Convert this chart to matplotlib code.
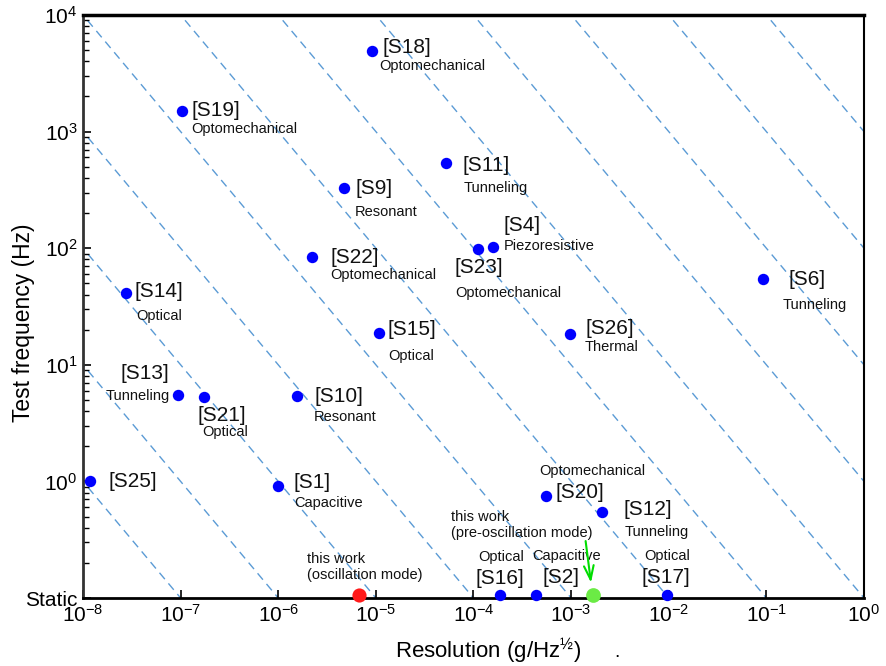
import numpy as np
import matplotlib
matplotlib.use("Agg")
import matplotlib.pyplot as plt
from matplotlib.ticker import LogLocator, NullLocator, FixedLocator, NullFormatter

plt.rcParams["font.family"] = ["Liberation Sans", "DejaVu Sans"]
plt.rcParams["mathtext.fontset"] = "custom"
plt.rcParams["mathtext.rm"] = "Liberation Sans"
plt.rcParams["mathtext.it"] = "Liberation Sans:italic"
plt.rcParams["mathtext.default"] = "regular"

# "Static" measurements sit on the bottom edge of the chart
STATIC = 0.106

refs = ["S18", "S19", "S11", "S9", "S4", "S23", "S22", "S6", "S14", "S15", "S26",
        "S13", "S21", "S10", "S25", "S1", "S20", "S12", "S16", "S2", "S17"]
resolution = [9.1e-6, 1.03e-7, 5.2e-5, 4.7e-6, 1.6e-4, 1.1e-4, 2.2e-6, 9.3e-2, 2.75e-8,
              1.07e-5, 9.8e-4, 9.4e-8, 1.73e-7, 1.55e-6, 1.18e-8, 1.0e-6, 5.5e-4, 2.06e-3,
              1.89e-4, 4.4e-4, 9.5e-3]
frequency = [4900, 1500, 537, 328, 103, 99, 84, 54, 41.6, 18.9, 18.5,
             5.56, 5.25, 5.35, 1.0, 0.906, 0.75, 0.55, STATIC, STATIC, STATIC]
mechanism = ["Optomechanical", "Optomechanical", "Tunneling", "Resonant", "Piezoresistive",
             "Optomechanical", "Optomechanical", "Tunneling", "Optical", "Optical", "Thermal",
             "Tunneling", "Optical", "Resonant", "", "Capacitive", "Optomechanical", "Tunneling",
             "Optical", "Capacitive", "Optical"]

osc_res = 6.7e-6      # this work, oscillation mode
pre_res = 1.66e-3     # this work, pre-oscillation mode

# constant resolution*frequency guide lines
guide_exp = list(range(-9, 5))

x_ticks = [1e-8, 1e-7, 1e-6, 1e-5, 1e-4, 1e-3, 1e-2, 1e-1, 1e0]
x_ticklabels = ["$10^{-8}$", "$10^{-7}$", "$10^{-6}$", "$10^{-5}$", "$10^{-4}$",
                "$10^{-3}$", "$10^{-2}$", "$10^{-1}$", "$10^{0}$"]
y_ticks = [0.1, 1, 10, 100, 1000, 10000]
y_ticklabels = ["Static", "$10^{0}$", "$10^{1}$", "$10^{2}$", "$10^{3}$", "$10^{4}$"]

# label placement, offsets in pixels from the dot: (dx, dy, ha)
tag_pos = {
    "S18": (11, 4, "left"), "S19": (10, 1, "left"), "S11": (17, -2, "left"),
    "S9": (12, 0, "left"), "S4": (10, 21, "left"), "S23": (-23, -19, "left"),
    "S22": (19, 0, "left"), "S6": (25, 0, "left"), "S14": (9, 1, "left"),
    "S15": (9, 3, "left"), "S26": (15, 5, "left"), "S13": (-58, 21, "left"),
    "S21": (-6, -18, "left"), "S10": (18, 0, "left"), "S25": (18, 0, "left"),
    "S1": (15, 4, "left"), "S20": (10, 3, "left"), "S12": (22, 2, "left"),
    "S16": (-25, 17, "left"), "S2": (6, 18, "left"), "S17": (-25, 18, "left"),
}
cat_pos = {
    "S18": (7, -15, "left"), "S19": (9, -18, "left"), "S11": (18, -25, "left"),
    "S9": (11, -24, "left"), "S4": (10, 1, "left"), "S23": (-22, -44, "left"),
    "S22": (19, -18, "left"), "S6": (19, -26, "left"), "S14": (10, -23, "left"),
    "S15": (10, -23, "left"), "S26": (14, -13, "left"), "S13": (-8, -1, "right"),
    "S21": (-2, -35, "left"), "S10": (17, -21, "left"), "S25": (0, 0, "left"),
    "S1": (16, -17, "left"), "S20": (-7, 25, "left"), "S12": (23, -20, "left"),
    "S16": (-22, 38, "left"), "S2": (-4, 39, "left"), "S17": (-22, 39, "left"),
}

fig = plt.figure(figsize=(8.86, 6.66), dpi=100)
ax = fig.add_axes([83 / 886, 1 - 598 / 666, 781 / 886, 583 / 666])
ax.set_xscale("log")
ax.set_yscale("log")
ax.set_xlim(1e-8, 1)
ax.set_ylim(0.1, 1e4)

gx = np.array([1e-10, 10.0])
for k in guide_exp:
    ax.plot(gx, 10.0 ** k / gx, color="#5B9BD5", lw=1.0, dashes=(6, 4), zorder=1)

ax.plot(resolution, frequency, "o", color="#0000FF", ms=8.2, mec="none",
        zorder=5, clip_on=False)
ax.plot([osc_res], [STATIC], "o", color="#FF1A1A", ms=10.2, mec="none", zorder=6, clip_on=False)
ax.plot([pre_res], [STATIC], "o", color="#6BEB45", ms=10.6, mec="none", zorder=6, clip_on=False)

for r, x, y, m in zip(refs, resolution, frequency, mechanism):
    dx, dy, ha = tag_pos[r]
    ax.annotate(f"[{r}]", (x, y), xytext=(dx, dy), textcoords="offset pixels",
                ha=ha, va="center", fontsize=15, color="#111111")
    if m:
        dx, dy, ha = cat_pos[r]
        ax.annotate(m, (x, y), xytext=(dx, dy), textcoords="offset pixels",
                    ha=ha, va="center", fontsize=10.5, color="#111111")

ax.annotate("this work\n(oscillation mode)", (osc_res, STATIC), xytext=(-52, 28),
            textcoords="offset pixels", ha="left", va="center", fontsize=10.5,
            linespacing=1.15, color="#111111")
ax.annotate("this work\n(pre-oscillation mode)", (pre_res, STATIC), xytext=(-142, 70),
            textcoords="offset pixels", ha="left", va="center", fontsize=10.5,
            linespacing=1.15, color="#111111")
ax.annotate("", (pre_res, STATIC), xytext=(-7, 54), textcoords="offset pixels",
            arrowprops=dict(arrowstyle="->,head_length=1.0,head_width=0.35",
                            color="#00DD00", lw=1.5, shrinkA=0, shrinkB=9),
            zorder=7)

ax.xaxis.set_major_locator(FixedLocator(x_ticks))
ax.set_xticklabels(x_ticklabels)
ax.xaxis.set_minor_locator(NullLocator())
ax.yaxis.set_major_locator(FixedLocator(y_ticks))
ax.set_yticklabels(y_ticklabels)
ax.yaxis.set_minor_locator(LogLocator(base=10, subs=np.arange(2, 10), numticks=20))
ax.yaxis.set_minor_formatter(NullFormatter())

ax.tick_params(axis="both", which="major", direction="in", length=6, width=1.2,
               labelsize=15, pad=4, top=False, right=False)
ax.tick_params(axis="y", which="minor", direction="in", length=4, width=1.0, right=False)

ax.spines["top"].set_linewidth(2.5)
ax.spines["bottom"].set_linewidth(2.0)
ax.spines["left"].set_linewidth(2.0)
ax.spines["left"].set_color("#333333")
ax.spines["right"].set_linewidth(1.5)

ax.set_xlabel("Resolution (g/Hz$^{½}$)", fontsize=16)
ax.xaxis.set_label_coords((488 - 83) / 781, -0.066)
ax.set_ylabel("Test frequency (Hz)", fontsize=16.5)
ax.yaxis.set_label_coords(-0.062, 0.472)

fig.text(617 / 886, 1 - 657 / 666, ".", fontsize=14, ha="center", va="baseline")

fig.savefig("out.png", dpi=100)
